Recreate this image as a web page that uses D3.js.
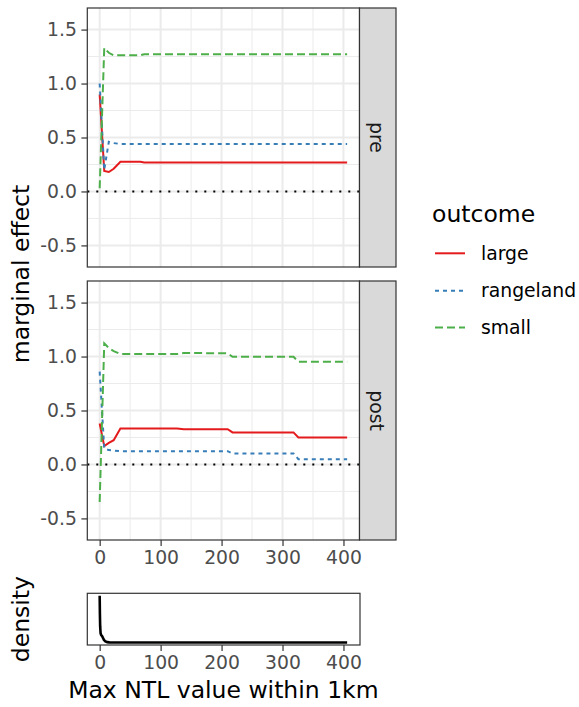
<!DOCTYPE html>
<html>
<head>
<meta charset="utf-8">
<script src="https://cdn.jsdelivr.net/npm/d3@7"></script>
<style>
  html, body { margin: 0; padding: 0; background: #fff; }
  svg { display: block; font-family: "DejaVu Sans", sans-serif; }
</style>
</head>
<body>
<svg id="chart" width="579" height="707"></svg>
<script>
// NTL values at which the marginal effects were evaluated
const ntlValues = [0, 7.5, 15, 23, 34, 67, 73, 127, 138, 210, 218, 318, 326, 406];

// Marginal effects, period "pre"
const largePre     = [0.90, 0.19, 0.18, 0.21, 0.275, 0.275, 0.268, 0.268, 0.268, 0.268, 0.268, 0.268, 0.268, 0.268];
const rangelandPre = [1.00, 0.20, 0.46, 0.448, 0.44, 0.44, 0.44, 0.44, 0.44, 0.44, 0.44, 0.44, 0.44, 0.44];
const smallPre     = [0.03, 1.33, 1.285, 1.262, 1.262, 1.262, 1.272, 1.272, 1.272, 1.272, 1.272, 1.272, 1.272, 1.272];

// Marginal effects, period "post"
const largePost     = [0.38, 0.17, 0.20, 0.225, 0.334, 0.334, 0.334, 0.334, 0.327, 0.327, 0.297, 0.297, 0.25, 0.25];
const rangelandPost = [0.86, 0.148, 0.133, 0.128, 0.123, 0.123, 0.123, 0.123, 0.123, 0.123, 0.102, 0.102, 0.049, 0.049];
const smallPost     = [-0.347, 1.122, 1.08, 1.05, 1.023, 1.023, 1.023, 1.023, 1.033, 1.03, 0.998, 0.998, 0.952, 0.952];

// Density of the NTL variable
const densityX = [0, 0.4, 0.8, 1.5, 2.5, 4, 5.5, 7, 9, 12, 16, 25, 50, 100, 200, 300, 406];
const densityY = [1.0, 0.6, 0.35, 0.2, 0.16, 0.14, 0.1, 0.06, 0.03, 0.012, 0.006, 0.004, 0.003, 0.003, 0.003, 0.003, 0.003];

const outcomes = ["large", "rangeland", "small"];
const facets = ["pre", "post"];
const yTicks = [-0.5, 0, 0.5, 1, 1.5];
const yMinor = [-0.25, 0.25, 0.75, 1.25];
const xTicks = [0, 100, 200, 300, 400];
const xMinor = [50, 150, 250, 350];

const seriesByFacet = {
  pre:  { large: largePre,  rangeland: rangelandPre,  small: smallPre },
  post: { large: largePost, rangeland: rangelandPost, small: smallPost }
};

const colour = d3.scaleOrdinal().domain(outcomes).range(["#E41A1C", "#377EB8", "#4DAF4A"]);
const dash = d3.scaleOrdinal().domain(outcomes).range(["none", "4 4", "8 4"]);

const svg = d3.select("#chart");
const left = 87.3, right = 359.5, stripW = 36.5;
const panels = { pre: [8, 267], post: [281, 540] };

const xExt = d3.extent(ntlValues);
const pad = (xExt[1] - xExt[0]) * 0.05;
const x = d3.scaleLinear().domain([xExt[0] - pad, xExt[1] + pad]).range([left, right]);

const tickCol = "#4D4D4D", lineCol = "#333333";
const tickFont = 18.8, titleFont = 23.5;

facets.forEach(f => {
  const [top, bottom] = panels[f];
  const y = d3.scaleLinear().domain([-0.70, 1.70]).range([bottom, top]);
  const g = svg.append("g");
  const clipId = "clip-" + f;
  svg.append("clipPath").attr("id", clipId).append("rect")
    .attr("x", left).attr("y", top).attr("width", right - left).attr("height", bottom - top);

  // grid
  const grid = g.append("g");
  grid.selectAll(".ym").data(yMinor).join("line")
    .attr("x1", left).attr("x2", right).attr("y1", d => y(d)).attr("y2", d => y(d))
    .attr("stroke", "#EBEBEB").attr("stroke-width", 1);
  grid.selectAll(".xm").data(xMinor).join("line")
    .attr("y1", top).attr("y2", bottom).attr("x1", d => x(d)).attr("x2", d => x(d))
    .attr("stroke", "#EBEBEB").attr("stroke-width", 1);
  grid.selectAll(".yM").data(yTicks).join("line")
    .attr("x1", left).attr("x2", right).attr("y1", d => y(d)).attr("y2", d => y(d))
    .attr("stroke", "#EBEBEB").attr("stroke-width", 2);
  grid.selectAll(".xM").data(xTicks).join("line")
    .attr("y1", top).attr("y2", bottom).attr("x1", d => x(d)).attr("x2", d => x(d))
    .attr("stroke", "#EBEBEB").attr("stroke-width", 2);

  // zero reference line
  g.append("line")
    .attr("x1", left).attr("x2", right).attr("y1", y(0)).attr("y2", y(0))
    .attr("stroke", "#000").attr("stroke-width", 2).attr("stroke-dasharray", "2 7");

  // effect lines
  const line = d3.line().x((d, i) => x(ntlValues[i])).y(d => y(d));
  const lg = g.append("g").attr("clip-path", `url(#${clipId})`);
  outcomes.forEach(o => {
    lg.append("path").datum(seriesByFacet[f][o])
      .attr("d", line).attr("fill", "none")
      .attr("stroke", colour(o)).attr("stroke-width", 2)
      .attr("stroke-dasharray", dash(o));
  });

  // panel border
  g.append("rect").attr("x", left).attr("y", top).attr("width", right - left).attr("height", bottom - top)
    .attr("fill", "none").attr("stroke", lineCol).attr("stroke-width", 1.2);

  // strip
  g.append("rect").attr("x", right).attr("y", top).attr("width", stripW).attr("height", bottom - top)
    .attr("fill", "#D9D9D9").attr("stroke", lineCol).attr("stroke-width", 1.2);
  g.append("text")
    .attr("transform", `translate(${right + stripW / 2 - 1},${(top + bottom) / 2}) rotate(90)`)
    .attr("text-anchor", "middle").attr("dy", "0.35em")
    .attr("font-size", tickFont).attr("fill", "#1A1A1A").text(f);

  // y axis
  const yAxis = g.append("g").attr("transform", `translate(${left},0)`)
    .call(d3.axisLeft(y).tickValues(yTicks).tickSize(5.9).tickPadding(4.5).tickFormat(d3.format(".1f")));
  yAxis.select(".domain").remove();
  yAxis.selectAll("line").attr("stroke", lineCol).attr("stroke-width", 1.2);
  yAxis.selectAll("text").attr("fill", tickCol).attr("font-size", tickFont)
    .attr("font-family", "DejaVu Sans").text(d => d3.format(".1f")(d).replace("−", "-"));

  if (f === "post") {
    const xAxis = g.append("g").attr("transform", `translate(0,${bottom})`)
      .call(d3.axisBottom(x).tickValues(xTicks).tickSize(5.9).tickPadding(4.5));
    xAxis.select(".domain").remove();
    xAxis.selectAll("line").attr("stroke", lineCol).attr("stroke-width", 1.2);
    xAxis.selectAll("text").attr("fill", tickCol).attr("font-size", tickFont).attr("font-family", "DejaVu Sans");
  }
});

// y title for the effect panels
svg.append("text")
  .attr("transform", `translate(29,${(panels.pre[0] + panels.post[1]) / 2}) rotate(-90)`)
  .attr("text-anchor", "middle").attr("font-size", titleFont).attr("fill", "#000")
  .text("marginal effect");

// density panel
const dTop = 593.3, dBottom = 645;
const dMax = d3.max(densityY);
const yd = d3.scaleLinear().domain([-0.05 * dMax, 1.05 * dMax]).range([dBottom, dTop]);
const dg = svg.append("g");
dg.append("path").datum(densityY)
  .attr("d", d3.line().x((d, i) => x(densityX[i])).y(d => yd(d)))
  .attr("fill", "none").attr("stroke", "#000").attr("stroke-width", 2.6)
  .attr("stroke-linejoin", "round");
dg.append("rect").attr("x", left).attr("y", dTop).attr("width", right - left + 0.5).attr("height", dBottom - dTop)
  .attr("fill", "none").attr("stroke", lineCol).attr("stroke-width", 1.2);
const dAxis = dg.append("g").attr("transform", `translate(0,${dBottom})`)
  .call(d3.axisBottom(x).tickValues(xTicks).tickSize(5.9).tickPadding(4.5));
dAxis.select(".domain").remove();
dAxis.selectAll("line").attr("stroke", lineCol).attr("stroke-width", 1.2);
dAxis.selectAll("text").attr("fill", tickCol).attr("font-size", tickFont).attr("font-family", "DejaVu Sans");

svg.append("text")
  .attr("transform", `translate(29,${(dTop + dBottom) / 2}) rotate(-90)`)
  .attr("text-anchor", "middle").attr("font-size", titleFont).attr("fill", "#000")
  .text("density");

svg.append("text")
  .attr("x", (left + right) / 2).attr("y", 698)
  .attr("text-anchor", "middle").attr("font-size", titleFont).attr("fill", "#000")
  .text("Max NTL value within 1km");

// legend
const legend = svg.append("g");
legend.append("text").attr("x", 432).attr("y", 221.5)
  .attr("font-size", titleFont).attr("fill", "#000").text("outcome");
const keyY = [253.3, 290.8, 327.5];
outcomes.forEach((o, i) => {
  legend.append("line").attr("x1", 435).attr("x2", 465).attr("y1", keyY[i]).attr("y2", keyY[i])
    .attr("stroke", colour(o)).attr("stroke-width", 2).attr("stroke-dasharray", dash(o));
  legend.append("text").attr("x", 481).attr("y", keyY[i]).attr("dy", "0.35em")
    .attr("font-size", tickFont).attr("fill", "#000").text(o);
});
</script>
</body>
</html>
